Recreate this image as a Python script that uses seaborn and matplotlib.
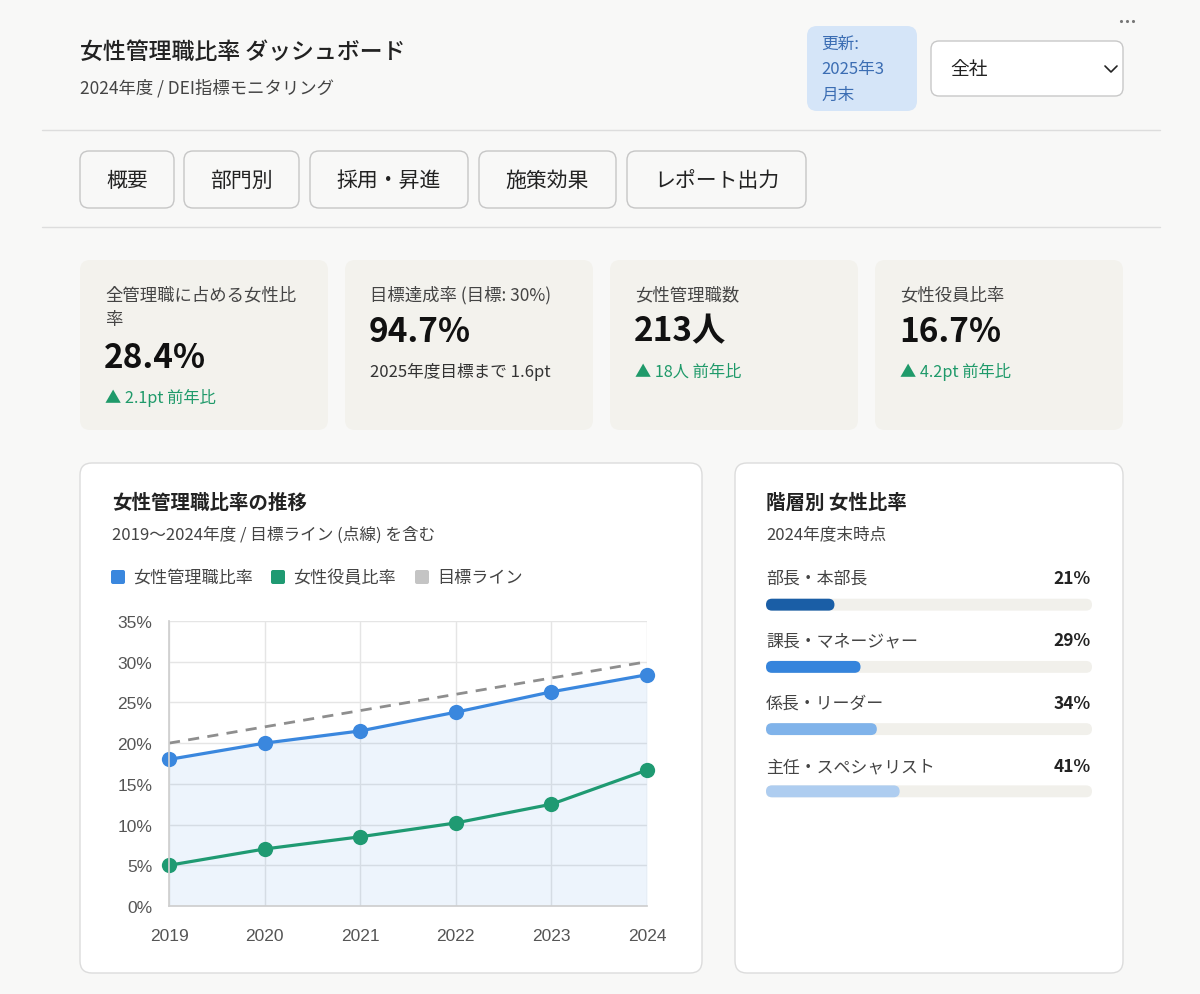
import matplotlib
matplotlib.use("Agg")
import matplotlib.pyplot as plt
import pandas as pd
import seaborn as sns
from matplotlib.patches import FancyBboxPatch

# data
years = [2019, 2020, 2021, 2022, 2023, 2024]
mgr_ratio = [18.0, 20.0, 21.5, 23.8, 26.3, 28.4]
exec_ratio = [5.0, 7.0, 8.5, 10.2, 12.5, 16.7]
target_line = [20, 22, 24, 26, 28, 30]
y_ticks = [0, 5, 10, 15, 20, 25, 30, 35]

level_labels = ["部長・本部長", "課長・マネージャー", "係長・リーダー", "主任・スペシャリスト"]
level_values = [21, 29, 34, 41]

tabs = ["概要", "部門別", "採用・昇進", "施策効果", "レポート出力"]
kpi_labels = ["全管理職に占める女性比\n率", "目標達成率 (目標: 30%)", "女性管理職数", "女性役員比率"]
kpi_values = ["28.4%", "94.7%", "213人", "16.7%"]
kpi_subs = ["▲ 2.1pt 前年比", "2025年度目標まで 1.6pt", "▲ 18人 前年比", "▲ 4.2pt 前年比"]

sns.set_theme(style="white")
plt.rcParams["font.family"] = ["Noto Sans CJK JP", "DejaVu Sans"]

BG = "#f8f8f7"
CARD = "#f3f2ed"
BLUE = "#3a87de"
GREEN = "#1f9a72"
GRAY = "#8e8e8e"
TXT = "#222222"
SUB = "#444444"
GRID = "#e5e5e5"

fig = plt.figure(figsize=(12, 9.95), dpi=100)
fig.patch.set_facecolor(BG)

bg = fig.add_axes([0, 0, 1, 1])
bg.set_xlim(0, 1200)
bg.set_ylim(995, 0)
bg.axis("off")


def box(x0, y0, x1, y1, fc, ec="none", r=10, lw=1):
    bg.add_patch(FancyBboxPatch((x0, y0), x1 - x0, y1 - y0,
                                boxstyle=f"round,pad=0,rounding_size={r}",
                                fc=fc, ec=ec, lw=lw))


# header
bg.text(80, 52, "女性管理職比率 ダッシュボード", fontsize=16.5, color=TXT, va="center", weight="medium")
bg.text(80, 88, "2024年度 / DEI指標モニタリング", fontsize=12.5, color=SUB, va="center")
box(807, 27, 917, 112, "#d5e5f8", r=10)
for i, line in enumerate(["更新:", "2025年3", "月末"]):
    bg.text(821, 44 + i * 25.5, line, fontsize=12, color="#3b6db3", va="center")
box(931, 42, 1123, 97, "white", ec="#c8c8c8", r=8)
bg.text(950, 70, "全社", fontsize=13.5, color=TXT, va="center")
bg.plot([1105, 1111, 1117], [67, 73, 67], color=TXT, lw=1.2)
bg.scatter([1121, 1127, 1133], [22, 22, 22], s=5, color="#777777", lw=0)
bg.plot([42, 1160], [131, 131], color="#dddddd", lw=1)
bg.plot([42, 1160], [228, 228], color="#dddddd", lw=1)

# tabs
tab_x = [(80, 174), (184, 299), (310, 468), (479, 616), (627, 806)]
for (x0, x1), t in zip(tab_x, tabs):
    box(x0, 152, x1, 209, BG, ec="#c6c6c6", r=9)
    bg.text((x0 + x1) / 2, 181, t, fontsize=15, color=TXT, ha="center", va="center")

# kpi cards
card_x = [80, 345, 610, 875]
for i, x0 in enumerate(card_x):
    box(x0, 261, x0 + 248, 431, CARD, r=10)
    bg.text(x0 + 25, 286, kpi_labels[i], fontsize=12.5, color=SUB, va="top", linespacing=1.5)
    vy = 358 if i == 0 else 332
    bg.text(x0 + 24, vy, kpi_values[i], fontsize=24, color="#111111", va="center", weight="bold")
    sc = "#333333" if i == 1 else "#1f9a6a"
    fs = 12 if i == 1 else 11.7
    bg.text(x0 + 25, vy + 40, kpi_subs[i], fontsize=fs, color=sc, va="center")

# panels
box(80, 464, 702, 974, "white", ec="#dcdcdc", r=12)
box(735, 464, 1123, 974, "white", ec="#dcdcdc", r=12)

bg.text(112, 503, "女性管理職比率の推移", fontsize=14, color=TXT, va="center", weight="bold")
bg.text(112, 535, "2019～2024年度 / 目標ライン (点線) を含む", fontsize=12, color=SUB, va="center")
for sx, col, lab in [(111, BLUE, "女性管理職比率"), (271, GREEN, "女性役員比率"), (415, "#c4c4c4", "目標ライン")]:
    bg.add_patch(FancyBboxPatch((sx, 571), 14, 14, boxstyle="round,pad=0,rounding_size=2", fc=col, ec="none"))
    bg.text(sx + 22, 578, lab, fontsize=12.3, color=SUB, va="center")

bg.text(766, 503, "階層別 女性比率", fontsize=14, color=TXT, va="center", weight="bold")
bg.text(766, 535, "2024年度末時点", fontsize=12, color=SUB, va="center")

# line chart
ax = fig.add_axes([169 / 1200, 1 - 907 / 995, (647 - 169) / 1200, (907 - 622) / 995])
df = pd.DataFrame({"year": years, "mgr": mgr_ratio, "exec": exec_ratio, "target": target_line})
ax.fill_between(df["year"], df["mgr"], 0, color=BLUE, alpha=0.09, lw=0)
sns.lineplot(data=df, x="year", y="target", ax=ax, color=GRAY, lw=2, dashes=False)
ax.lines[-1].set_dashes([4, 3])
sns.lineplot(data=df, x="year", y="mgr", ax=ax, color=BLUE, lw=2.3, marker="o",
             markersize=11, markeredgewidth=0, clip_on=False)
sns.lineplot(data=df, x="year", y="exec", ax=ax, color=GREEN, lw=2.3, marker="o",
             markersize=11, markeredgewidth=0, clip_on=False)
ax.set_xlim(2019, 2024)
ax.set_ylim(0, 35)
ax.set_xticks(years)
ax.set_yticks(y_ticks)
ax.set_yticklabels([f"{v}%" for v in y_ticks])
ax.set_xlabel("")
ax.set_ylabel("")
ax.grid(True, color=GRID, lw=1)
ax.set_facecolor("none")
for s in ["top", "right"]:
    ax.spines[s].set_visible(False)
for s in ["left", "bottom"]:
    ax.spines[s].set_color("#cfcfcf")
ax.tick_params(axis="both", length=7, width=1, color=GRID, labelsize=12.5,
               labelcolor="#555555")
ax.tick_params(axis="x", pad=9)
ax.tick_params(axis="y", pad=5)
for lab in ax.get_xticklabels() + ax.get_yticklabels():
    lab.set_family(["Liberation Sans", "DejaVu Sans"])

# level bars
bx0, bx1 = 766, 1092
row_y = [605, 667, 730, 793]
bar_h = 12
axb = fig.add_axes([bx0 / 1200, 1 - 811 / 995, (bx1 - bx0) / 1200, (811 - 587) / 995])
axb.set_facecolor("none")
bar_colors = ["#1a5ea6", "#3584dc", "#80b3ea", "#aecdf0"]
bdf = pd.DataFrame({"level": level_labels, "value": level_values, "full": [100] * 4})
sns.barplot(data=bdf, x="full", y="level", ax=axb, color="#f1f0eb", width=bar_h / 62.7,
            saturation=1)
sns.barplot(data=bdf, x="value", y="level", hue="level", palette=bar_colors, ax=axb,
            width=bar_h / 62.7, saturation=1, legend=False)
axb.set_xlim(0, 100)
axb.set_ylim(3.3, -0.3)
axb.axis("off")
# round the bar ends
xu = 100 / (bx1 - bx0)
yu = 3.6 / (811 - 587)
for p in list(axb.patches):
    x0, y0 = p.get_x(), p.get_y()
    w, h = p.get_width(), p.get_height()
    fc = p.get_facecolor()
    p.remove()
    axb.add_patch(FancyBboxPatch((x0, y0), w, h,
                                 boxstyle=f"round,pad=0,rounding_size={6 * xu}",
                                 mutation_aspect=yu / xu, fc=fc, ec="none"))
for yy, lab, v in zip(row_y, level_labels, level_values):
    bg.text(766, yy - 26, lab, fontsize=12.2, color=SUB, va="center")
    bg.text(1091, yy - 26, f"{v}%", fontsize=12.5, color=TXT, va="center", ha="right", weight="bold")

fig.savefig("out.png", dpi=100, facecolor=BG)
